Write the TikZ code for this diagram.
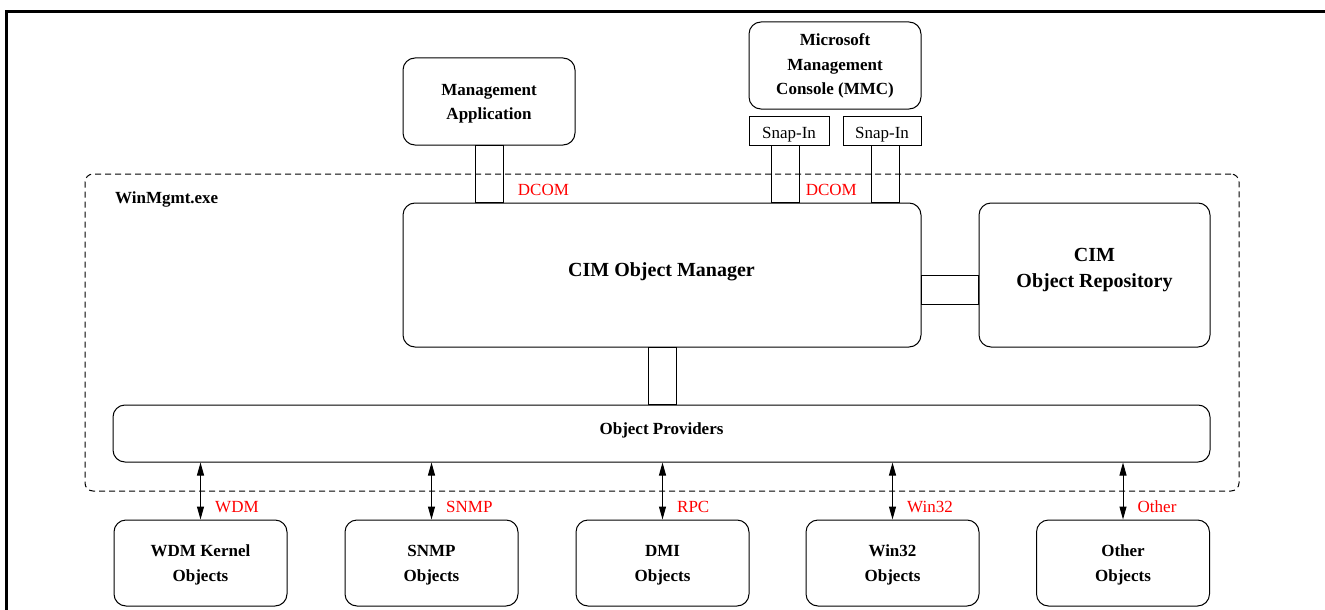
\documentclass[tikz,border=0pt]{standalone}
\usepackage{fontspec}
\setmainfont{Liberation Serif}
\usetikzlibrary{arrows.meta}
\newcommand{\mlines}[1]{\begin{tabular}[t]{@{}c@{}}#1\end{tabular}}
\begin{document}
\begin{tikzpicture}[x=1pt,y=-1pt,
  box/.style={draw, line width=1pt, rounded corners=12pt, inner sep=0pt},
  sqbox/.style={draw, line width=1pt, inner sep=0pt},
  pipe/.style={draw, line width=1pt},
  txt/.style={anchor=base, inner sep=0pt, font=\fontsize{17}{24}\selectfont\bfseries},
  bigtxt/.style={anchor=base, inner sep=0pt, font=\fontsize{20}{26}\selectfont\bfseries},
  plain/.style={anchor=base, inner sep=0pt, font=\fontsize{17}{24}\selectfont},
  redlbl/.style={anchor=base west, inner sep=0pt, text=red, font=\fontsize{17}{24}\selectfont},
  arr/.style={line width=1pt, {Triangle[length=13pt,width=7pt]}-{Triangle[length=13pt,width=7pt]}}
]
\useasboundingbox (0,0) rectangle (1325,610);
% outer frame (top and left edges)
\draw[line width=3pt] (6,610) -- (6,12) -- (1325,12);

% WinMgmt.exe dashed container
\node[draw, dashed, dash pattern=on 6pt off 4pt, line width=1pt, rounded corners=8pt,
      minimum width=1154pt, minimum height=317pt, inner sep=0pt] (wm) at (662,332.5) {};
\node[anchor=base west, inner sep=0pt, font=\fontsize{17}{24}\selectfont\bfseries] (wmt) at (115,203.3) {WinMgmt.exe};

% top boxes
\node[box, minimum width=172pt, minimum height=87pt] (ma) at (489,101.5) {};
\node[txt] (mat) at (489,95.7) {\fontsize{17}{23.5}\selectfont\mlines{Management\\Application}};
\node[box, minimum width=172pt, minimum height=87pt] (mmc) at (835,65.5) {};
\node[txt] (mmct) at (835,45.7) {\fontsize{17}{24.4}\selectfont\mlines{Microsoft\\Management\\Console (MMC)}};
\node[sqbox, minimum width=80pt, minimum height=29pt] (snap1) at (789,130.5) {};
\node[plain] (snap1t) at (789,138) {Snap-In};
\node[sqbox, minimum width=78pt, minimum height=29pt] (snap2) at (882,130.5) {};
\node[plain] (snap2t) at (882,138) {Snap-In};

% CIM boxes
\node[box, minimum width=518pt, minimum height=144pt] (cim) at (662,275) {};
\node[bigtxt] (cimt) at (661.5,276) {CIM Object Manager};
\node[box, minimum width=231pt, minimum height=144pt] (rep) at (1094.5,275) {};
\node[bigtxt] (rept) at (1094.5,261) {\mlines{CIM\\Object Repository}};

% providers
\node[box, minimum width=1097pt, minimum height=57pt] (prov) at (661.5,433.5) {};
\node[txt] (provt) at (661.5,434) {Object Providers};

% pipes
\draw[pipe] ([xshift=-14pt]ma.south) rectangle ([xshift=14pt]ma.south |- cim.north);
\draw[pipe] ([xshift=-18pt]snap1.south) rectangle ([xshift=10pt]snap1.south |- cim.north);
\draw[pipe] ([xshift=-11pt]snap2.south) rectangle ([xshift=17pt]snap2.south |- cim.north);
\draw[pipe] (cim.east) rectangle ([yshift=-29pt]rep.west);
\draw[pipe] ([xshift=-14pt]cim.south) rectangle ([xshift=14pt]cim.south |- prov.north);
\node[redlbl] (dcom1) at (517.7,195.7) {DCOM};
\node[redlbl] (dcom2) at (805.6,195.7) {DCOM};

% bottom boxes
\foreach \n/\x/\t/\l in {wdm/200.5/WDM Kernel/WDM, snmp/431.5/SNMP/SNMP, dmi/662.5/DMI/RPC, win/892.5/Win32/Win32, oth/1123/Other/Other}{
  \node[box, minimum width=173pt, minimum height=86pt] (\n) at (\x,563) {};
  \node[txt] (\n t) at (\x,556.7) {\fontsize{17}{25}\selectfont\mlines{\t\\Objects}};
  \draw[arr] (prov.south -| \n.north) -- (\n.north);
  \node[redlbl] (\n l) at ([xshift=14.5pt,yshift=7pt]\n.north) {\l};
}
\end{tikzpicture}
\end{document}
